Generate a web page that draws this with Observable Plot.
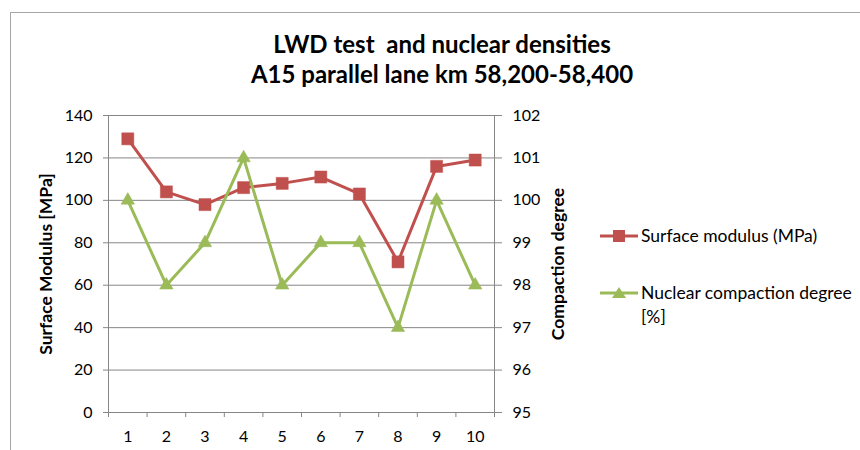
<!DOCTYPE html>
<html>
<head>
<meta charset="utf-8">
<script src="https://cdn.jsdelivr.net/npm/d3@7"></script>
<script src="https://cdn.jsdelivr.net/npm/@observablehq/plot@0.6"></script>
<style>
  html, body { margin: 0; padding: 0; background: #fff; }
  #chart { position: relative; width: 860px; height: 450px; overflow: hidden; font-family: Lato, "Open Sans", sans-serif; color: #000; }
  #frame { position: absolute; left: 10px; top: 12px; width: 900px; height: 500px; border: 1.5px solid #a6a6a6; box-sizing: border-box; }
  #title { position: absolute; left: 0; top: 29px; width: 884px; text-align: center; font-weight: bold; font-size: 24px; line-height: 30px; }
  #plot { position: absolute; left: 0; top: 0; }
  .leg { position: absolute; left: 600px; display: flex; align-items: flex-start; font-size: 17.5px; line-height: 24px; }
  .leg svg { margin-top: 5px; margin-right: 3px; flex: none; }
</style>
</head>
<body>
<div id="chart">
  <div id="frame"></div>
  <div id="plot"></div>
  <div id="title"></div>
  <div id="legend"></div>
</div>
<script>
const titleLines = ["LWD test  and nuclear densities", "A15 parallel lane km 58,200-58,400"];
const categories = [1, 2, 3, 4, 5, 6, 7, 8, 9, 10];
const surfaceModulus = [129, 104, 98, 106, 108, 111, 103, 71, 116, 119];
const compactionDegree = [100, 98, 99, 101, 98, 99, 99, 97, 100, 98];
const leftTicks = [0, 20, 40, 60, 80, 100, 120, 140];
const rightTicks = [95, 96, 97, 98, 99, 100, 101, 102];
const seriesNames = ["Surface modulus (MPa)", "Nuclear compaction degree\n[%]"];
const leftLabel = "Surface Modulus [MPa]";
const rightLabel = "Compaction degree";
const colors = ["#C0504D", "#9BBB59"];

// map right-axis (compaction) values onto the left scale domain
const r0 = rightTicks[0], r1 = rightTicks[rightTicks.length - 1];
const l0 = leftTicks[0], l1 = leftTicks[leftTicks.length - 1];
const toLeft = v => l0 + (v - r0) * (l1 - l0) / (r1 - r0);
const fromLeft = v => r0 + (v - l0) * (r1 - r0) / (l1 - l0);

const modData = categories.map((c, i) => ({x: c, y: surfaceModulus[i]}));
const compData = categories.map((c, i) => ({x: c, y: toLeft(compactionDegree[i])}));
const boundaries = [...categories.map(c => c - 0.5), categories[categories.length - 1] + 0.5];

document.getElementById("title").innerHTML = titleLines.map(t => `<div style="white-space:pre">${t}</div>`).join("");

const grid = "#868686";
const plot = Plot.plot({
  width: 860,
  height: 450,
  marginLeft: 108,
  marginRight: 366,
  marginTop: 115,
  marginBottom: 38,
  style: {fontFamily: "Lato, 'Open Sans', sans-serif", fontSize: "16px", color: "#000", background: "transparent", overflow: "visible"},
  x: {domain: [boundaries[0], boundaries[boundaries.length - 1]]},
  y: {domain: [l0, l1]},
  marks: [
    Plot.gridY(leftTicks, {stroke: grid, strokeOpacity: 1, strokeWidth: 1}),
    Plot.ruleX([boundaries[0], boundaries[boundaries.length - 1]], {stroke: grid, strokeWidth: 1}),
    Plot.axisY(leftTicks, {anchor: "left", tickSize: 5, tickPadding: 11, stroke: grid, label: null, fill: "#000"}),
    Plot.axisY(rightTicks.map(toLeft), {anchor: "right", tickSize: 7, tickPadding: 11, stroke: grid, label: null, fill: "#000", tickFormat: v => String(Math.round(fromLeft(v)))}),
    Plot.axisX(boundaries, {tickSize: 5, tickFormat: () => "", stroke: grid, label: null}),
    Plot.axisX(categories, {tickSize: 0, tickPadding: 18, label: null, fill: "#000"}),
    Plot.text([leftLabel], {frameAnchor: "left", textAnchor: "middle", dx: -62, rotate: -90, fontWeight: "bold", fontSize: 17.5, fill: "#000"}),
    Plot.text([rightLabel], {frameAnchor: "right", textAnchor: "middle", dx: 64, rotate: -90, fontWeight: "bold", fontSize: 17.5, fill: "#000"}),
    Plot.line(modData, {x: "x", y: "y", stroke: colors[0], strokeWidth: 3}),
    Plot.line(compData, {x: "x", y: "y", stroke: colors[1], strokeWidth: 3}),
    Plot.dot(modData, {x: "x", y: "y", symbol: "square", r: 6.8, fill: colors[0], stroke: colors[0], strokeWidth: 0.5}),
    Plot.dot(compData, {x: "x", y: "y", symbol: "triangle", r: 5, fill: colors[1], stroke: colors[1], strokeWidth: 0.5})
  ]
});
document.getElementById("plot").appendChild(plot);

// legend
const legendTops = [224, 281];
const legend = document.getElementById("legend");
seriesNames.forEach((name, i) => {
  const item = document.createElement("div");
  item.className = "leg";
  item.style.top = legendTops[i] + "px";
  const marker = i === 0
    ? `<rect x="13" y="1" width="12" height="12" fill="${colors[i]}"/>`
    : `<path d="M19,1 L26,12 L12,12 Z" fill="${colors[i]}"/>`;
  item.innerHTML = `<svg width="38" height="14"><line x1="0" x2="38" y1="7" y2="7" stroke="${colors[i]}" stroke-width="3"/>${marker}</svg><div style="white-space:pre">${name}</div>`;
  legend.appendChild(item);
});
</script>
</body>
</html>
